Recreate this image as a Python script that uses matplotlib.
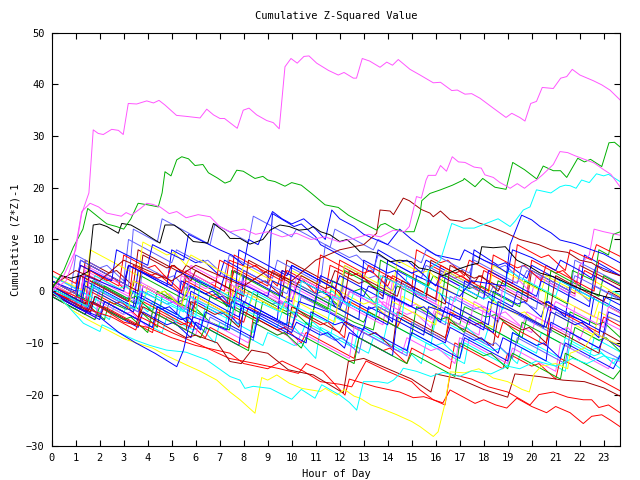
import matplotlib
matplotlib.use("Agg")
import matplotlib.pyplot as plt

# colours used by the chart
RED, GREEN, BLUE, MAG, CYAN = "#ff0000", "#00b000", "#0000ff", "#ff55ff", "#00ffff"
DKRED, YELLOW, BLACK, LTBLUE = "#a00000", "#ffff00", "#000000", "#6060ff"

# each series: (hour, cumulative value) breakpoints
g01 = [(0,1),(0.6,-0.5),(0.9,0),(1.4,-2.5),(1.6,4),(2.3,2),(2.6,2.5),(3.0,0.5),(3.2,5),(4.1,3),(4.4,3.5),(5.4,-0.5),(5.6,4),(7.2,0),(7.4,6),(8.2,4.5),(8.5,5),(9.4,1),(9.6,4),(11.4,-0.5),(11.6,5),(12.5,3),(12.8,3.5),(13.6,0),(13.8,3),(15.6,-1.5),(15.8,5),(16.8,2.5),(17.1,3),(17.8,0),(18.0,4),(19.8,-0.5),(20.0,6),(21.0,3.5),(21.3,4),(22.0,1),(22.2,4),(23.7,0.3)]
g02 = [(0,0),(0.7,-1.5),(1.1,-1),(2.2,-5.5),(2.4,-2),(3.1,-3.5),(3.5,-3),(4.4,-7),(4.6,-1),(5.3,-2),(5.6,-1.5),(6.6,-6),(7.4,-7.5),(7.6,-3),(8.4,-5),(8.6,0),(9.5,-2.5),(9.8,-2),(10.8,-5.5),(11.0,-2),(12.6,-6),(13.4,-7.5),(13.6,-3),(15.0,-6.5),(15.8,-8.5),(16.0,-4),(17.0,-6.5),(17.2,-3),(18.1,-5),(18.5,-4.5),(19.6,-9),(19.8,-5),(21.4,-9),(21.6,-4),(22.7,-6.5),(23.0,-6),(23.7,-9)]
g03 = [(0,3),(1.0,0.5),(1.2,6),(3.0,1.5),(3.2,5),(4.8,1),(5.0,8),(6.0,5.5),(6.3,6),(7.0,3),(7.2,6),(9.0,1.5),(9.2,15),(10.1,12.5),(10.4,13),(11.0,10.5),(11.2,9),(13.4,3.5),(13.6,8),(14.5,5.5),(14.8,6),(15.4,3.5),(15.6,6),(17.4,1.5),(17.6,8),(18.6,5),(18.9,5.5),(19.8,2.5),(20.0,5),(22.0,0),(22.2,7),(23.7,3)]
g04 = [(0,-1),(1.8,-5.5),(2.0,0),(3.6,-4),(3.8,1),(4.6,-1),(4.9,-0.5),(5.6,-3.5),(5.8,-1),(7.6,-5.5),(7.8,2),(8.8,-0.5),(9.1,0),(9.8,-3),(10.0,0),(11.8,-4.5),(12.0,-2),(13.8,-6.5),(14.0,-1),(14.9,-3),(15.2,-2.5),(15.8,-5.5),(16.0,-3),(17.4,-6.5),(17.6,-2),(18.6,-4.5),(18.9,-4),(19.6,-7),(19.8,-4),(21.6,-8.5),(21.8,-3),(23.7,-7.5)]
g05 = [(0,0.5),(0.9,-1.5),(1.2,-1),(2.4,-5.5),(2.6,-3),(4.6,-8),(4.8,-5),(5.9,-7.5),(6.2,-7),(6.8,-10),(7.0,-6),(8.8,-10.5),(9.0,-8),(10.1,-10.5),(10.4,-10),(11.0,-13),(11.2,-7),(13.2,-12),(13.4,-9),(14.4,-11.5),(14.7,-11),(15.4,-14),(15.6,-10),(17.2,-14),(17.4,-9),(18.4,-11.5),(18.7,-11),(19.4,-14),(19.6,-11),(21.4,-15.5),(21.6,-10),(22.6,-12.5),(22.9,-12),(23.7,-15)]
g06 = [(0,2),(1.2,-1),(1.4,6),(2.4,3.5),(2.7,4),(3.4,1),(3.6,8),(5.4,3.5),(5.6,5),(7.4,0.5),(7.6,4),(8.6,1.5),(8.9,2),(9.6,-1),(9.8,6),(11.6,1.5),(11.8,4),(12.8,1.5),(13.1,2),(13.8,-1),(14.0,3),(15.6,-1),(15.8,6),(16.8,3.5),(17.1,4),(17.6,1.5),(17.8,3),(19.8,-2),(20.0,4),(21.8,-0.5),(22.0,5),(23.7,1)]
g07 = [(0,1.5),(1.6,-2.5),(1.8,3),(2.8,0.5),(3.1,1),(3.8,-2),(4.0,1),(6.0,-4),(6.2,2),(7.2,-0.5),(7.5,0),(8.2,-3),(8.4,-1),(10.0,-5),(10.2,1),(11.2,-1.5),(11.5,-1),(12.2,-4),(12.4,-2),(14.4,-7),(14.6,-1),(15.6,-3.5),(15.9,-3),(16.6,-6),(16.8,-3),(18.4,-7),(18.6,-2),(20.6,-7),(20.8,-4),(22.6,-8.5),(22.8,-4),(23.7,-6)]
g08 = [(0,0),(1.4,-3.5),(1.6,1),(3.6,-4),(3.8,0),(4.8,-2.5),(5.1,-2),(5.8,-5),(6.0,2),(8.0,-3),(8.2,0),(9.2,-2.5),(9.5,-2),(10.2,-5),(10.4,-1),(12.2,-5.5),(12.4,0),(14.4,-5),(14.6,-2),(16.4,-6.5),(16.6,-1),(17.6,-3.5),(17.9,-3),(18.6,-6),(18.8,-3),(20.8,-8),(21.0,-4),(23.0,-9),(23.2,-5),(23.7,-6)]
g09 = [(0,2),(0.8,0),(1.0,7),(2.0,4.5),(2.3,5),(3.0,2),(3.2,10),(5.0,5.5),(5.2,8),(6.2,5.5),(6.5,6),(7.2,3),(7.4,7),(9.2,2.5),(9.4,6),(11.2,1.5),(11.4,9),(12.4,6.5),(12.7,7),(13.4,4),(13.6,7),(15.4,2.5),(15.6,5),(17.4,0.5),(17.6,7),(18.6,4.5),(18.9,5),(19.6,2),(19.8,4),(21.6,-0.5),(21.8,6),(23.7,1.5)]
g10 = [(0,0),(1.0,-2),(1.3,-1.5),(2.0,-5),(2.2,-3),(4.2,-8),(4.4,-4),(5.4,-6.5),(5.7,-6),(6.4,-9),(6.6,-7),(8.2,-11),(8.4,-5),(9.4,-7.5),(9.7,-7),(10.4,-10),(10.6,-8),(12.6,-13),(12.8,-9),(13.8,-11.5),(14.1,-11),(14.8,-14),(15.0,-11),(16.6,-15),(16.8,-10),(18.8,-15),(19.0,-12),(20.0,-14.5),(20.3,-14),(21.0,-17),(21.2,-13),(23.7,-19.3)]
g11 = [(0,1),(1.0,-1.5),(1.2,3),(3.2,-2),(3.4,2),(4.4,-0.5),(4.7,0),(5.4,-3),(5.6,3),(7.6,-2),(7.8,1),(9.8,-4),(10.0,2),(11.0,-0.5),(11.3,0),(12.0,-3),(12.2,4),(14.2,-1),(14.4,1),(16.2,-3.5),(16.4,3),(17.4,0.5),(17.7,1),(18.4,-2),(18.6,2),(20.6,-3),(20.8,4),(22.8,-1),(23.0,3),(23.7,1.3)]
g12 = [(0,-0.5),(1.6,-4.5),(1.8,-1),(3.6,-5.5),(3.8,1),(5.8,-4),(6.0,-2),(7.0,-4.5),(7.3,-4),(7.8,-6.5),(8.0,3),(10.0,-2),(10.2,1),(12.0,-3.5),(12.2,-1),(13.2,-3.5),(13.5,-3),(14.2,-6),(14.4,4),(16.2,-0.5),(16.4,-2),(18.2,-6.5),(18.4,0),(19.4,-2.5),(19.7,-2),(20.4,-5),(20.6,-2),(22.4,-6.5),(22.6,-1),(23.7,-3.8)]
g13 = [(0,3),(1.2,0),(1.4,4),(3.2,-0.5),(3.4,2),(5.2,-2.5),(5.4,3),(6.4,0.5),(6.7,1),(7.4,-2),(7.6,1),(9.4,-3.5),(9.6,2),(11.6,-3),(11.8,-1),(13.6,-5.5),(13.8,-2),(14.8,-4.5),(15.1,-4),(15.8,-7),(16.0,-4),(17.8,-8.5),(18.0,-3),(20.0,-8),(20.2,-5),(21.2,-7.5),(21.5,-7),(22.0,-9.5),(22.2,-7),(23.7,-10.8)]
g14 = [(0,2),(1.8,-2.5),(2.0,1),(3.0,-1.5),(3.3,-1),(4.0,-4),(4.2,-2),(6.2,-7),(6.4,-3),(8.4,-8),(8.6,-4),(9.6,-6.5),(9.9,-6),(10.4,-8.5),(10.6,-6),(12.6,-11),(12.8,-7),(14.8,-12),(15.0,-8),(16.0,-10.5),(16.3,-10),(17.0,-13),(17.2,-10),(19.0,-14.5),(19.2,-8),(21.2,-13),(21.4,-9),(22.4,-11.5),(22.7,-11),(23.4,-14),(23.7,-12.2)]
g15 = [(0,0.5),(1.5,-3),(1.7,2),(3.5,-2.5),(3.7,3),(5.5,-1.5),(5.7,1),(6.6,-1),(6.9,-0.5),(7.3,-3),(7.5,4),(9.5,-1),(9.7,1),(11.5,-3.5),(11.7,2),(12.6,0),(12.9,0.5),(13.5,-2.5),(13.7,6),(15.7,1),(15.9,3),(17.7,-1.5),(17.9,1),(19.5,-3),(19.7,2),(21.5,-2.5),(21.7,4),(22.6,2),(22.8,8),(23.2,7),(23.4,11),(23.7,11.5)]
g16 = [(0,2),(1.2,-1),(1.4,5),(3.4,0),(3.6,2),(5.4,-2.5),(5.6,4),(6.6,1.5),(6.9,2),(7.6,-1),(7.8,2),(9.8,-3),(10.0,3),(12.0,-2),(12.2,1),(13.2,-1.5),(13.5,-1),(14.0,-3.5),(14.2,2),(16.0,-2.5),(16.2,3),(18.0,-1.5),(18.2,4),(19.2,1.5),(19.5,2),(20.0,-0.5),(20.2,3),(21.8,-1),(22.0,5),(22.4,7),(22.6,12),(23.0,11.5),(23.7,10.8)]
g17 = [(0,4),(1.0,1.5),(1.2,5),(2.8,1),(3.0,7),(4.0,4.5),(4.3,5),(4.8,2.5),(5.0,5),(6.8,0.5),(7.0,6),(9.0,1),(9.2,4),(10.2,1.5),(10.5,2),(11.0,-0.5),(11.2,7),(13.0,2.5),(13.2,5),(15.0,0.5),(15.2,8),(16.2,5.5),(16.5,6),(17.2,3),(17.4,6),(19.2,1.5),(19.4,9),(20.4,6.5),(20.7,7),(21.4,4),(21.6,8),(22.5,6),(22.7,9),(23.7,6.7)]
g18 = [(0,1),(1.6,-3),(1.8,2),(3.6,-2.5),(3.8,5),(4.8,2.5),(5.1,3),(5.6,0.5),(5.8,3),(7.8,-2),(8.0,4),(9.8,-0.5),(10.0,2),(12.0,-3),(12.2,5),(13.2,2.5),(13.5,3),(14.2,0),(14.4,2),(16.0,-2),(16.2,4),(18.2,-1),(18.4,1),(20.2,-3.5),(20.4,3),(21.4,0.5),(21.7,1),(22.4,-2),(22.6,1),(23.7,-1.7)]
g19 = [(0,3),(1.4,0),(1.6,8),(3.6,3),(3.8,9.5),(4.8,7),(5.1,7.5),(5.6,5),(5.8,7),(7.8,2),(8.0,5),(9.8,0.5),(10.0,4),(11.0,1.5),(11.3,2),(12.0,-1),(12.2,5),(14.2,0),(14.4,6),(15.4,3.5),(15.7,4),(16.2,1.5),(16.4,4),(18.2,-0.5),(18.4,5),(20.4,0),(20.6,3),(22.4,-1.5),(22.6,2),(23.7,-1)]
g20 = [(0,-1),(1.0,-3.5),(1.2,0),(3.0,-4.5),(3.2,-1),(4.2,-3.5),(4.5,-3),(5.2,-6),(5.4,-3),(7.2,-7.5),(7.4,-2),(9.4,-7),(9.6,-4),(10.6,-6.5),(10.9,-6),(11.6,-9),(11.8,-5),(13.8,-10),(14.0,-6),(15.8,-10.5),(16.0,-5),(17.0,-7.5),(17.3,-7),(18.0,-10),(18.2,-7),(20.2,-12),(20.4,-8),(22.4,-13),(22.6,-9),(23.7,-11.8)]
g21 = [(0,0),(1.6,-4),(1.8,-1),(3.6,-5.5),(3.8,-3),(5.6,-7.5),(5.8,-2),(6.8,-4.5),(7.1,-4),(7.8,-7),(8.0,-4),(9.8,-8.5),(10.0,-3),(12.0,-8),(12.2,-6),(13.2,-8.5),(13.5,-8),(14.2,-11),(14.4,-4),(16.4,-9),(16.6,-6),(18.4,-10.5),(18.6,-5),(19.6,-7.5),(19.9,-7),(20.6,-10),(20.8,-7),(22.8,-12),(23.0,-8),(23.7,-9.8)]
g22 = [(0,1),(1.2,-2),(1.4,2),(3.4,-3),(3.6,4),(5.6,-1),(5.8,1),(6.8,-1.5),(7.1,-1),(7.6,-3.5),(7.8,8),(9.8,3),(10.0,5),(11.8,0.5),(12.0,3),(13.8,-1.5),(14.0,6),(15.0,3.5),(15.3,4),(16.0,1),(16.2,3),(18.0,-1.5),(18.2,4),(20.2,-1),(20.4,2),(22.4,-3),(22.6,3),(23.7,0.2)]
g23 = [(0,-1),(1.4,-4.5),(1.6,0),(2.6,-2.5),(2.9,-2),(3.6,-5),(3.8,-2),(5.8,-7),(6.0,-1),(8.0,-6),(8.2,-3),(10.0,-7.5),(10.2,-4),(11.2,-6.5),(11.5,-6),(12.2,-9),(12.4,-2),(14.4,-7),(14.6,-5),(16.4,-9.5),(16.6,-4),(17.6,-6.5),(17.9,-6),(18.6,-9),(18.8,-6),(20.6,-10.5),(20.8,-3),(22.8,-8),(23.0,-5),(23.7,-6.8)]
g24 = [(0,2),(2.0,-3),(2.2,1),(3.2,-1.5),(3.5,-1),(4.2,-4),(4.4,0),(6.4,-5),(6.6,-1),(8.6,-6),(8.8,-2),(9.8,-4.5),(10.1,-4),(10.8,-7),(11.0,-1),(13.0,-6),(13.2,-4),(15.0,-8.5),(15.2,-3),(16.2,-5.5),(16.5,-5),(17.2,-8),(17.4,-5),(19.4,-10),(19.6,-6),(21.6,-11),(21.8,-7),(22.8,-9.5),(23.1,-9),(23.7,-11.7)]
g25 = [(0,0),(1.0,-2.5),(1.2,3),(3.2,-2),(3.4,0),(5.2,-4.5),(5.4,2),(6.4,-0.5),(6.7,0),(7.4,-3),(7.6,-1),(9.4,-5.5),(9.6,4),(11.6,-1),(11.8,-3),(12.8,-5.5),(13.0,6),(14.0,3.5),(14.3,4),(15.0,1),(15.2,-1),(17.0,-5.5),(17.2,2),(19.2,-3),(19.4,0),(20.4,-2.5),(20.7,-2),(21.4,-5),(21.6,1),(23.7,-4.2)]
g26 = [(0,-0.5),(1.8,-5),(2.0,-2),(3.0,-4.5),(3.3,-4),(4.0,-7),(4.2,-4),(6.0,-8.5),(6.2,-5),(8.2,-10),(8.4,-6),(9.4,-8.5),(9.7,-8),(10.2,-10.5),(10.4,-8),(12.4,-13),(12.6,-7),(14.6,-12),(14.8,-9),(15.8,-11.5),(16.1,-11),(16.8,-14),(17.0,-9),(19.0,-14),(19.2,-11),(21.0,-15.5),(21.2,-10),(23.2,-15),(23.4,-13),(23.7,-13.7)]
g27 = [(0,1),(1.2,-2),(1.4,1),(3.2,-3.5),(3.4,2),(4.4,-0.5),(4.7,0),(5.4,-3),(5.6,0),(7.4,-4.5),(7.6,1),(9.6,-4),(9.8,-1),(11.8,-6),(12.0,0),(13.0,-2.5),(13.3,-2),(14.0,-5),(14.2,-2),(16.0,-6.5),(16.2,1),(18.2,-4),(18.4,-2),(19.4,-4.5),(19.7,-4),(20.4,-7),(20.6,0),(22.6,-5),(22.8,-2),(23.7,-4.3)]
g28 = [(0,0.5),(2.0,-4.5),(2.2,-2),(4.2,-7),(4.4,-3),(5.4,-5.5),(5.7,-5),(6.4,-8),(6.6,-5),(8.4,-9.5),(8.6,-4),(10.6,-9),(10.8,-7),(11.8,-9.5),(12.1,-9),(12.8,-12),(13.0,-8),(14.8,-12.5),(15.0,-6),(17.0,-11),(17.2,-8),(18.2,-10.5),(18.5,-10),(19.2,-13),(19.4,-9),(21.4,-14),(21.6,-8),(23.7,-13.2)]
g29 = [(0,3),(1.6,-1),(1.8,3),(2.8,0.5),(3.1,1),(3.8,-2),(4.0,0),(6.0,-5),(6.2,2),(8.2,-3),(8.4,0),(10.2,-4.5),(10.4,2),(11.4,-0.5),(11.7,0),(12.4,-3),(12.6,0),(14.6,-5),(14.8,3),(16.8,-2),(17.0,1),(18.0,-1.5),(18.3,-1),(18.8,-3.5),(19.0,4),(21.0,-1),(21.2,2),(23.2,-3),(23.4,0),(23.7,-0.7)]
g30 = [(0,-1),(1.4,-4.5),(1.6,-2),(3.6,-7),(3.8,-4),(4.8,-6.5),(5.1,-6),(5.8,-9),(6.0,-6),(7.8,-10.5),(8.0,-3),(10.0,-8),(10.2,-6),(11.2,-8.5),(11.5,-8),(12.2,-11),(12.4,-8),(14.2,-12.5),(14.4,-5),(16.4,-10),(16.6,-7),(17.6,-9.5),(17.9,-9),(18.6,-12),(18.8,-9),(20.6,-13.5),(20.8,-6),(22.8,-11),(23.0,-9),(23.7,-10.8)]
g31 = [(0,2),(1.0,-0.5),(1.2,3),(3.2,-2),(3.4,5),(4.4,2.5),(4.7,3),(5.4,0),(5.6,2),(7.4,-2.5),(7.6,7),(9.6,2),(9.8,4),(11.8,-1),(12.0,6),(13.0,3.5),(13.3,4),(14.0,1),(14.2,3),(16.0,-1.5),(16.2,5),(18.2,0),(18.4,7),(19.4,4.5),(19.7,5),(20.4,2),(20.6,5),(22.6,0),(22.8,6),(23.7,3.7)]
g32 = [(0,1),(1.4,-2.5),(1.6,5),(3.6,0),(3.8,7),(4.8,4.5),(5.1,5),(5.8,2),(6.0,4),(8.0,-1),(8.2,6),(10.2,1),(10.4,3),(11.4,0.5),(11.7,1),(12.2,-1.5),(12.4,4),(14.4,-1),(14.6,2),(16.4,-2.5),(16.6,5),(17.6,2.5),(17.9,3),(18.6,0),(18.8,2),(20.8,-3),(21.0,3),(23.0,-2),(23.2,0),(23.7,-1.3)]
g33 = [(0,2),(1.0,-0.5),(1.2,6),(3.2,1),(3.4,12),(4.4,9.5),(4.6,14),(5.8,11),(6.6,9),(6.8,13),(8.2,9.5),(8.4,14.5),(9.0,13),(10.0,10.5),(10.2,12),(11.6,8.5),(11.8,12),(13.4,8),(13.6,10),(15.4,5.5),(15.6,8),(17.4,3.5),(17.6,6),(19.4,1.5),(19.6,5),(21.6,0),(21.8,3),(23.7,-1.5)]
g34 = [(0,-1),(1.8,-5.5),(2.0,-3),(3.0,-5.5),(3.3,-5),(4.0,-8),(4.2,-4),(6.2,-9),(6.4,-7),(8.2,-11.5),(8.4,-6),(9.4,-8.5),(9.7,-8),(10.4,-11),(10.6,-9),(12.6,-14),(12.8,-9),(14.8,-14),(15.0,-12),(16.8,-16.5),(17.0,-10),(18.0,-12.5),(18.3,-12),(19.0,-15),(19.2,-12),(21.2,-17),(21.4,-12),(23.4,-17),(23.7,-15.2)]
g35 = [(0,1.5),(1.4,-2),(1.6,3),(3.6,-2),(3.8,1),(5.6,-3.5),(5.8,5),(6.8,2.5),(7.1,3),(7.8,0),(8.0,2),(10.0,-3),(10.2,3),(12.2,-2),(12.4,0),(13.4,-2.5),(13.7,-2),(14.4,-5),(14.6,1),(16.6,-4),(16.8,-1),(18.6,-5.5),(18.8,1),(19.8,-1.5),(20.1,-1),(20.8,-4),(21.0,-2),(23.0,-7),(23.2,-3),(23.7,-4.3)]
g36 = [(0,-0.5),(1.2,-3.5),(1.4,1),(3.4,-4),(3.6,-1),(4.6,-3.5),(4.9,-3),(5.6,-6),(5.8,0),(7.8,-5),(8.0,-2),(9.8,-6.5),(10.0,5),(12.0,0),(12.2,-2),(14.0,-6.5),(14.2,-1),(15.2,-3.5),(15.5,-3),(16.2,-6),(16.4,-3),(18.4,-8),(18.6,-2),(20.6,-7),(20.8,-4),(21.8,-6.5),(22.1,-6),(22.8,-9),(23.0,-1),(23.7,-2.7)]
g37 = [(0,-0.5),(2.0,-5.5),(2.2,-2),(4.2,-7),(4.4,-3),(5.4,-5.5),(5.7,-5),(6.2,-7.5),(6.4,-4),(8.4,-9),(8.6,-5),(10.6,-10),(10.8,-4),(11.8,-6.5),(12.1,-6),(12.8,-9),(13.0,-7),(14.8,-11.5),(15.0,-8),(17.0,-13),(17.2,-9),(19.0,-13.5),(19.2,-8),(20.2,-10.5),(20.5,-10),(21.2,-13),(21.4,-10),(23.4,-15),(23.7,-12.3)]

red_bot1 = [(0,0),(1.5,-3.5),(2.5,-5),(3.5,-7.5),(3.7,-5),(5,-8),(6,-10),(7.4,-13),(8.5,-14),(9.5,-15),(10.28,-15.9),(10.6,-14),(11.3,-15.5),(12.22,-20.1),(12.4,-17),(13.5,-18.5),(14.5,-19.5),(15.07,-20.6),(15.5,-20.4),(15.9,-21),(16.3,-21.6),(16.6,-19.1),(17.64,-21.7),(18,-21),(18.5,-22),(18.96,-22.6),(19.38,-20.7),(20,-22.3),(20.62,-23.5),(21,-22.3),(21.6,-23.5),(22.15,-25.6),(22.5,-24.2),(22.92,-23.9),(23.3,-25),(23.68,-26.2)]
red_bot2 = [(0,1),(2,-3),(3,-6),(4,-7),(5,-9),(6,-10.5),(7.43,-12),(8,-14),(9,-15),(9.6,-13.5),(10.5,-15.5),(11.2,-17.5),(12,-18),(12.5,-18.5),(13.1,-13.5),(14,-15.5),(15,-17.5),(15.35,-19.1),(15.9,-21),(16.39,-22),(16.6,-16),(17.5,-17),(18.2,-18.5),(19.0,-19.5),(19.93,-22),(20.3,-20),(20.9,-19.5),(21.5,-20.5),(22.15,-21),(22.5,-21),(22.8,-22.5),(23.2,-22),(23.68,-23.5)]
dkred_low = [(0,-0.5),(1.5,-4),(1.7,-2),(3.5,-6.5),(3.7,-4),(5.6,-9),(6.0,-8.5),(6.9,-10),(7.43,-13.6),(7.9,-14),(8.33,-11.4),(9.0,-12),(9.86,-15.2),(10.9,-16.2),(12.15,-19.7),(12.36,-13.6),(13,-13),(14,-15),(15,-17),(15.8,-19.5),(16.0,-16),(17,-17),(18,-19),(19,-20.5),(19.3,-16),(20.3,-16.5),(21.3,-17.2),(22.2,-17.5),(23,-18.7),(23.68,-20.3)]
yellow_bot = [(0,0),(0.83,-3.6),(1.5,-5.5),(2.2,-7.2),(2.98,-9.1),(3.5,-10),(4.2,-11),(4.8,-12.5),(5.63,-14.3),(6.2,-15.5),(6.88,-17.2),(7.43,-19.5),(7.85,-21),(8.47,-23.6),(8.75,-16.7),(9.0,-17.2),(9.38,-16.2),(9.9,-17.8),(10.42,-18.8),(11.2,-19.4),(11.4,-18.8),(11.88,-20.1),(12.2,-19),(12.6,-20.3),(12.85,-20.7),(13.3,-22),(13.68,-22.6),(14.38,-23.9),(15.0,-25.2),(15.35,-26.2),(15.9,-28.1),(16.1,-27.2),(16.39,-21.7),(16.6,-15.6),(17.2,-15.8),(17.8,-15),(18.4,-16.8),(19,-17.5),(19.6,-19),(19.9,-19.5),(20.1,-16),(20.4,-14.5),(21,-14),(21.5,-15),(21.6,-12),(22.2,-11),(22.6,-8),(23,-9),(23.68,-10.5)]
cyan_bot = [(0,0),(0.6,-2.5),(1.32,-6.2),(2.01,-7.8),(2.1,-6.5),(2.8,-8),(3.5,-9.5),(4.1,-10.5),(4.79,-11.4),(5.6,-11.8),(6.46,-13.3),(7.43,-16.5),(7.85,-17.2),(8.05,-18.8),(8.4,-18.4),(9.1,-18.8),(9.65,-20.1),(10.0,-20.9),(10.4,-19),(10.97,-20.7),(11.25,-18.1),(11.7,-19.3),(12.01,-20.1),(12.4,-21.5),(12.71,-23),(12.99,-17.5),(13.6,-17.5),(14.0,-17.8),(14.24,-17.2),(14.5,-16),(14.65,-14.9),(15.2,-15.5),(15.8,-16.5),(16.3,-15.7),(17,-16.5),(17.5,-15.4),(18.3,-16),(19,-14.5),(19.5,-15),(20.2,-13.5),(21,-14.5),(21.7,-13),(22.3,-14),(23,-12.5),(23.68,-13.5)]
blue_dip = [(0,0),(1,-3),(2,-5),(2.8,-8),(3.5,-10),(4.3,-12),(5.21,-14.6),(5.49,-11.4),(5.7,-7),(5.9,-5),(6.5,-6),(7.3,-7.5),(7.5,-2),(8.5,-4),(9.5,-6),(10,-7),(10.3,-2),(11.5,-4),(12.5,-6.5),(13,-7.5),(13.2,-3),(14.5,-6),(15.5,-8.5),(15.7,-3),(17,-5),(18,-7.5),(18.2,-2),(19.5,-4.5),(20.5,-7),(20.7,-3),(22,-5.5),(23,-8),(23.2,-4),(23.68,-5)]
blue_hi = [(0,1),(1.2,-2),(1.4,3),(3,0),(3.2,5),(5,1),(5.2,4),(7,0),(7.2,3),(9,-1),(9.2,2),(11,-2),(11.2,3),(13,-1),(13.2,1),(15,-3),(15.2,3),(17,-1),(17.5,2),(18.9,1),(19.1,9),(19.58,14.7),(20,13.8),(20.35,12.5),(20.8,11.3),(21.18,9.9),(21.8,9.2),(22.5,8),(23,7.2),(23.68,5.5)]
blue_b = [(0,2),(1,0),(1.2,5),(2.5,2),(2.7,8),(4,5),(4.2,9),(5.5,6),(5.7,11),(7,8),(7.5,7),(8,5),(8.2,10),(8.6,9),(9.2,15.4),(9.6,14),(10,13),(10.5,14),(11,12),(11.4,10),(11.67,15.7),(12,14),(12.6,12.5),(13,11),(13.5,10),(14,9),(14.5,12),(15,10),(15.5,8.5),(16,7),(16.5,6.5),(17,6),(17.2,8),(18,6),(18.5,5),(19,3.5),(19.2,8),(20,6.5),(21,4),(21.2,6),(22,4),(22.5,2.5),(22.7,5),(23.68,3)]
dkred_hi = [(0,1),(1,4),(2,2),(3,6),(4,4),(5,2),(6,5),(7,3),(8,1),(9,4),(10,2),(11,6),(12,8),(13,9),(13.54,11.2),(13.68,15.7),(14.1,15.5),(14.24,14.8),(14.65,18),(14.9,17.5),(15.4,15.8),(15.76,15.1),(15.9,14.4),(16.2,15.5),(16.6,13.8),(17.1,13.5),(17.43,14.1),(17.8,13.2),(18.26,12.5),(18.96,11.2),(19.5,10),(20.3,9),(20.8,8),(21.5,7.5),(22,6),(22.5,5.5),(23,4),(23.68,3)]
black_hi = [(0,0.5),(0.4,3),(0.8,2.5),(1.2,3),(1.53,3.8),(1.73,12.8),(2.0,13),(2.3,12.5),(2.78,11.2),(2.92,13.1),(3.3,12.8),(3.68,11.8),(4.1,10.5),(4.51,9.3),(4.72,12.8),(5.1,12.8),(5.4,11.8),(5.7,10.5),(5.9,9.6),(6.5,9.3),(6.74,13.1),(7.2,11.5),(7.43,10.2),(7.85,10.2),(8.26,9.1),(8.8,10),(9.1,11.8),(9.51,12.8),(9.9,12.5),(10.3,11.8),(10.7,12),(10.9,12.5),(11.2,11.5),(11.6,10.9),(12.0,9.6),(12.3,10),(12.6,8.8),(12.85,7.6),(13.3,7.6),(13.6,7.3),(14.1,5.7),(14.5,6),(15.0,5.7),(15.3,4.5),(15.76,4.1),(16.3,3),(16.9,4.2),(17.4,5),(17.78,5.4),(17.92,8.6),(18.4,8.4),(18.9,8.6),(19.1,7.5),(19.38,6.0),(19.9,4.8),(20.35,3.5),(20.9,2.8),(21.5,1.5),(22.0,0.5),(22.5,-0.3),(23.0,-1),(23.68,-1.7)]
cyan_hi = [(0,0.5),(1.5,-3),(1.7,1),(3.5,-3.5),(3.7,0),(5.5,-4),(5.7,-1),(7.5,-5),(7.7,0),(9.5,-4),(9.7,-2),(11.5,-6),(11.7,-1),(13.5,-5),(13.7,3),(15.5,-1),(15.7,4),(16.2,6),(16.67,13.1),(17.15,12.2),(17.6,12.2),(18.1,13.1),(18.6,14),(19.1,12.5),(19.3,13.5),(19.65,15.7),(19.93,16.3),(20.2,19.6),(20.8,19),(21.18,20.2),(21.4,20.5),(21.6,20.4),(21.85,19.9),(22.08,21.5),(22.4,21),(22.7,22.7),(23,22.3),(23.2,22.6),(23.68,21.2)]
green_top = [(0,0.5),(0.5,4),(0.9,8.5),(1.3,12),(1.5,16),(1.9,14.5),(2.3,13),(2.7,12.5),(3.0,12),(3.3,14),(3.6,17),(4.0,16.7),(4.44,16.3),(4.6,19),(4.72,23.1),(4.97,22.3),(5.21,25.4),(5.42,26),(5.7,25.6),(5.97,24.3),(6.3,24.5),(6.53,22.9),(6.9,21.9),(7.22,20.9),(7.45,21.3),(7.71,23.4),(7.98,23.2),(8.47,21.8),(8.8,22.2),(9.0,21.5),(9.3,21.2),(9.72,20.3),(10.0,21),(10.4,20.5),(10.83,18.9),(11.39,16.7),(11.6,16.5),(11.94,16.2),(12.36,14.7),(12.71,13.8),(13.13,12.8),(13.54,11.8),(13.7,12.8),(13.89,13.1),(14.3,12),(14.65,11.5),(15.1,11.5),(15.35,15.1),(15.42,17.5),(15.76,18.9),(16.2,19.6),(16.7,20.5),(17.15,21.5),(17.19,21.8),(17.64,20.2),(17.96,21.8),(18.47,20.1),(18.93,19.7),(19.21,24.9),(19.7,23.5),(20.21,21.7),(20.48,24.2),(20.9,23.3),(21.2,23.3),(21.46,22),(21.92,25.7),(22.2,25),(22.45,25.5),(22.92,24.1),(23.22,28.7),(23.45,28.8),(23.68,27.9)]
mag_2 = [(0,0),(0.6,2),(0.9,6),(1.25,15.4),(1.6,17),(1.95,16.3),(2.29,15.1),(2.9,14.5),(3.1,15.2),(3.33,14.7),(3.7,16),(3.96,17),(4.2,16.8),(4.51,16.3),(4.9,15),(5.21,15.4),(5.6,14.2),(6.1,14.8),(6.6,14.4),(7.0,12.5),(7.43,11.5),(8.0,12),(8.5,11),(9.0,11.5),(9.6,10.5),(10.2,11.2),(10.8,10),(11.4,10.5),(12,9.5),(12.6,10.2),(13.2,11),(13.7,10.5),(14.24,11.8),(14.7,11.5),(14.9,12.5),(15.2,18.3),(15.4,18.0),(15.6,21.5),(15.69,22.4),(16.0,22.4),(16.2,24.3),(16.45,23.2),(16.69,26),(16.95,25),(17.22,24.9),(17.6,24),(17.9,23.8),(18.05,22.5),(18.4,22),(18.68,21),(18.96,20.3),(19.1,19.9),(19.4,20.8),(19.7,19.9),(20.0,21),(20.2,21.5),(20.45,22.5),(20.9,24.5),(21.18,27),(21.5,26.8),(21.8,26.2),(22.2,25.5),(22.6,24.8),(23.0,23.5),(23.3,22.6),(23.68,20.2)]
mag_top = [(0,0),(0.5,3),(1.0,8),(1.25,15),(1.55,19),(1.73,31.2),(1.94,30.5),(2.15,30.3),(2.5,31.3),(2.78,31.1),(2.98,30.3),(3.19,36.3),(3.54,36.2),(3.96,36.8),(4.24,36.4),(4.47,36.9),(4.72,36.0),(5.2,34.0),(5.62,33.8),(6.18,33.5),(6.46,35.2),(6.74,34.1),(7.01,33.4),(7.2,33.4),(7.73,31.5),(7.98,35.0),(8.22,35.4),(8.54,34.1),(8.96,33.0),(9.23,32.6),(9.48,31.4),(9.72,43.4),(9.97,45.0),(10.23,44.1),(10.51,45.4),(10.72,45.5),(11.04,44.1),(11.53,42.7),(11.94,41.8),(12.18,42.3),(12.57,41.2),(12.7,41.2),(12.94,45.0),(13.25,44.5),(13.68,43.3),(13.96,44.3),(14.2,43.7),(14.44,44.8),(14.93,42.9),(15.35,41.8),(15.9,40.3),(16.2,40.4),(16.67,38.8),(16.9,38.9),(17.22,38.1),(17.5,38.2),(17.85,37.3),(18.4,35.4),(18.93,33.6),(19.17,34.4),(19.5,33.6),(19.72,32.9),(19.96,36.3),(20.2,36.7),(20.44,39.4),(20.9,39.2),(21.21,41.2),(21.46,41.5),(21.69,42.9),(22.01,41.8),(22.57,40.7),(22.92,39.9),(23.26,38.9),(23.68,37.0)]

# drawing order and colour of every series
series = [
    (g01, RED), (g02, GREEN), (g03, BLUE), (g04, MAG), (g05, CYAN), (g06, DKRED),
    (g07, YELLOW), (g08, LTBLUE), (g09, LTBLUE), (g10, RED), (g11, GREEN), (g12, BLUE),
    (g13, MAG), (g14, CYAN), (g15, GREEN), (g16, MAG), (g17, RED), (g18, LTBLUE),
    (g19, YELLOW), (g20, CYAN), (g21, DKRED), (g22, BLUE), (g23, RED), (g24, GREEN),
    (g25, BLUE), (g26, MAG), (g27, YELLOW), (g28, LTBLUE), (g29, CYAN), (g30, BLUE),
    (g31, RED), (g32, DKRED), (g33, LTBLUE), (g34, GREEN), (g35, MAG), (g36, BLUE),
    (g37, BLUE), (red_bot1, RED), (red_bot2, RED), (dkred_low, DKRED),
    (yellow_bot, YELLOW), (cyan_bot, CYAN), (blue_dip, BLUE), (blue_hi, BLUE),
    (blue_b, BLUE), (dkred_hi, DKRED), (black_hi, BLACK), (cyan_hi, CYAN),
    (green_top, GREEN), (mag_2, MAG), (mag_top, MAG),
]

x_ticks = list(range(0, 24))
y_ticks = list(range(-30, 51, 10))

plt.rcParams["font.family"] = ["DejaVu Sans Mono"]
fig = plt.figure(figsize=(6.4, 4.8), dpi=100)
ax = fig.add_axes([0.0808, 0.0702, 0.8887, 0.8618])

for pts, col in series:
    hs = [p[0] for p in pts]
    vs = [p[1] for p in pts]
    ax.plot(hs, vs, color=col, lw=0.7)

ax.set_xlim(0, 23.7)
ax.set_ylim(-30, 50)
ax.set_xticks(x_ticks)
ax.set_yticks(y_ticks)
ax.tick_params(direction="in", length=4, width=0.8, top=True, right=True,
               labelsize=7.5, pad=5)
for s in ax.spines.values():
    s.set_linewidth(0.8)

ax.set_title("Cumulative Z-Squared Value", fontsize=7.5, pad=10)
ax.set_xlabel("Hour of Day", fontsize=7.5, labelpad=4)
ax.set_ylabel("Cumulative (Z*Z)-1", fontsize=7.5, labelpad=4)

fig.savefig("out.png", dpi=100)
